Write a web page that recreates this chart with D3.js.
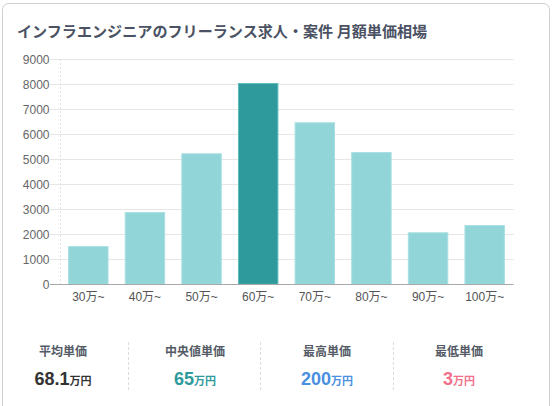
<!DOCTYPE html>
<html><head><meta charset="utf-8">
<script src="https://cdn.jsdelivr.net/npm/d3@7/dist/d3.min.js"></script>
<style>
html,body{margin:0;padding:0;background:#fff;}
svg{display:block;}
</style></head>
<body>
<svg id="c" width="552" height="406"></svg>
<script>
const title = "インフラエンジニアのフリーランス求人・案件 月額単価相場";
const categories = ["30万~","40万~","50万~","60万~","70万~","80万~","90万~","100万~"];
const counts = [1530, 2890, 5240, 8050, 6480, 5290, 2080, 2370];
const highlightIndex = 3;
const yTicks = [0,1000,2000,3000,4000,5000,6000,7000,8000,9000];
const statLabels = ["平均単価","中央値単価","最高単価","最低単価"];
const statValues = ["68.1","65","200","3"];
const statUnit = "万円";
const statColors = ["#333333","#2e9a9c","#4a8fe0","#f2708c"];

const svg = d3.select("#c");
const latin = "'Liberation Sans','Noto Sans CJK JP',sans-serif";
const cjk = "'Noto Sans CJK JP','Liberation Sans',sans-serif";

// card
svg.append("rect").attr("x",2.5).attr("y",3.5).attr("width",547).attr("height",420)
  .attr("rx",6).attr("fill","#fff").attr("stroke","#cfcfcf").attr("stroke-width",1);

svg.append("text").attr("x",17).attr("y",37).text(title)
  .attr("font-family",cjk).attr("font-weight","bold").attr("font-size",15.1)
  .attr("fill","#4b5263");

const x = d3.scaleBand().domain(categories).range([60,513]).paddingInner(0.286).paddingOuter(0.143);
const y = d3.scaleLinear().domain([0,9000]).range([284.3,59.3]);

// gridlines
svg.append("g").selectAll("line").data(yTicks.slice(1)).join("line")
  .attr("x1",50).attr("x2",513.5).attr("y1",d=>Math.round(y(d))+0.5).attr("y2",d=>Math.round(y(d))+0.5)
  .attr("stroke","#e6e6e6").attr("stroke-width",1);

// y axis labels
const yAxis = d3.axisLeft(y).tickValues(yTicks).tickSize(0).tickPadding(0).tickFormat(d3.format("d"));
const ya = svg.append("g").attr("transform","translate(49.5,0)").call(yAxis);
ya.select(".domain").remove();
ya.selectAll("text").attr("font-family",latin).attr("font-size",12).attr("fill","#666").attr("dy","0.35em");

// dashed vertical left line
svg.append("line").attr("x1",60.5).attr("x2",60.5).attr("y1",59).attr("y2",284)
  .attr("stroke","#e2e2e2").attr("stroke-dasharray","2,2");

// bars
svg.append("g").selectAll("rect").data(counts).join("rect")
  .attr("x",(d,i)=>x(categories[i])+0.5)
  .attr("width",x.bandwidth()-1)
  .attr("y",d=>y(d)+0.5)
  .attr("height",d=>y(0)-y(d)-0.5)
  .attr("fill",(d,i)=>i===highlightIndex?"#2e9a9c":"#92d5d9")
  .attr("stroke",(d,i)=>i===highlightIndex?"#5fbcbc":"#a8dfe2")
  .attr("stroke-width",1);

// x axis
const xAxis = d3.axisBottom(x).tickSize(0).tickPadding(8);
const xa = svg.append("g").attr("transform","translate(0,284.5)").call(xAxis);
xa.select(".domain").remove();
xa.selectAll("text").attr("font-family",latin).attr("font-size",12).attr("fill","#555");
svg.append("line").attr("x1",50).attr("x2",513.5).attr("y1",284.5).attr("y2",284.5)
  .attr("stroke","#a8a8a8").attr("stroke-width",1);

// stats
const centers = [63,195,327,459];
const dividers = [128.5,260.5,393.5];
svg.append("g").selectAll("line").data(dividers).join("line")
  .attr("x1",d=>d).attr("x2",d=>d).attr("y1",342).attr("y2",392)
  .attr("stroke","#dcdcdc").attr("stroke-dasharray","3,2");

const sg = svg.append("g").selectAll("g").data(statLabels).join("g");
sg.append("text").attr("x",(d,i)=>centers[i]).attr("y",352).attr("dy","0.35em")
  .attr("text-anchor","middle").text(d=>d)
  .attr("font-family",cjk).attr("font-weight","bold").attr("font-size",12).attr("fill","#555b66");
const vt = sg.append("text").attr("x",(d,i)=>centers[i]).attr("y",385)
  .attr("text-anchor","middle").attr("fill",(d,i)=>statColors[i]).attr("font-weight","bold");
vt.append("tspan").text((d,i)=>statValues[i]).attr("font-family",latin).attr("font-size",18);
vt.append("tspan").text(statUnit).attr("font-family",cjk).attr("font-size",11);
</script>
</body></html>
